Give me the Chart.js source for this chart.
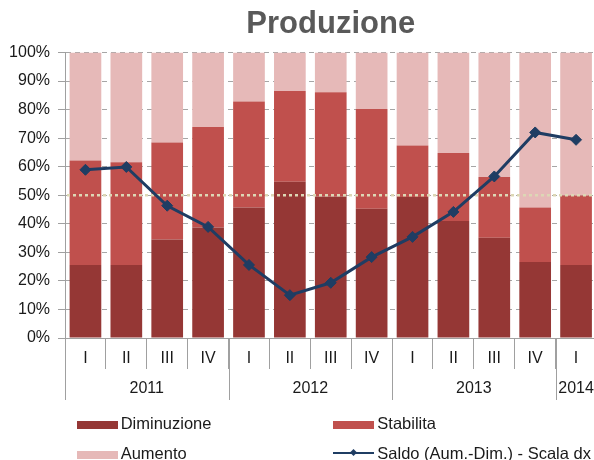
<!DOCTYPE html>
<html>
<head>
<meta charset="utf-8">
<script src="https://cdn.jsdelivr.net/npm/chart.js@4/dist/chart.umd.min.js"></script>
<style>
  html, body { margin: 0; padding: 0; background: #fff; overflow: hidden; width: 594px; height: 460px; }
  #wrap { position: relative; width: 594px; height: 460px; overflow: hidden; }
  #c { position: absolute; left: 0; top: 0; }
  .lg { position: absolute; height: 20px; font-family: 'Liberation Sans', Arial, sans-serif; font-size: 16.5px; line-height: 20px; color: #1a1a1a; white-space: nowrap; }
  .sw { position: absolute; left: 0; width: 41px; }
  .tx { position: absolute; left: 44px; top: 0; }
</style>
</head>
<body>
<div id="wrap">
  <canvas id="c" width="603" height="460"></canvas>
  <div id="legend"></div>
</div>
<script>
// ---- data ----
const quarters = ['I','II','III','IV','I','II','III','IV','I','II','III','IV','I'];
const years = ['2011','2012','2013','2014'];
const yearSpans = [4, 4, 4, 1];
const seriesNames = ['Diminuzione', 'Stabilita', 'Aumento', 'Saldo (Aum.-Dim.) - Scala dx'];
const diminuzione = [25.6, 25.6, 34.5, 38.7, 45.7, 54.7, 49.6, 45.3, 49.4, 41.0, 35.1, 26.6, 25.6];
const stabilita   = [36.6, 36.0, 34.0, 35.2, 37.1, 31.8, 36.5, 34.9, 18.0, 23.8, 21.3, 19.1, 24.3];
const aumento     = [37.8, 38.4, 31.5, 26.1, 17.2, 13.5, 13.9, 19.8, 32.6, 35.2, 43.6, 54.3, 50.1];
const saldo       = [10.7, 11.9, -4.4, -13.3, -29.3, -42.0, -36.8, -26.0, -17.5, -7.0, 7.9, 26.4, 23.3];

// ---- styles ----
const FONT = "'Liberation Sans', Arial, sans-serif";
const colors = ['#953735', '#C0504D', '#E6B9B8', '#1F3D63'];
const axisColor = '#a0a0a0';
const textColor = '#1a1a1a';

const yearPlugin = {
  id: 'yearRow',
  afterDraw(chart) {
    const xs = chart.scales.x;
    const ctx = chart.ctx;
    const half = (xs.getPixelForValue(1) - xs.getPixelForValue(0)) / 2;
    const top = chart.chartArea.bottom;
    const bottom = top + 62;
    ctx.save();
    ctx.font = '16px ' + FONT;
    ctx.fillStyle = textColor;
    ctx.textAlign = 'center';
    ctx.textBaseline = 'middle';
    const bounds = [xs.getPixelForValue(0) - half];
    let idx = 0;
    years.forEach((yr, k) => {
      const first = idx, last = idx + yearSpans[k] - 1;
      const cx = (xs.getPixelForValue(first) + xs.getPixelForValue(last)) / 2;
      ctx.fillText(yr, cx, top + 50.3);
      bounds.push(xs.getPixelForValue(last) + half);
      idx += yearSpans[k];
    });
    ctx.strokeStyle = axisColor;
    ctx.lineWidth = 1;
    bounds.forEach(b => {
      const x = Math.round(b) + 0.5;
      ctx.beginPath();
      ctx.moveTo(x, top);
      ctx.lineTo(x, bottom);
      ctx.stroke();
    });
    ctx.restore();
  }
};

const zeroLinePlugin = {
  id: 'zeroLine',
  beforeDatasetDraw(chart, args) {
    if (args.meta.type !== 'line') return;
    const ctx = chart.ctx;
    const y = chart.scales.y1.getPixelForValue(0);
    const a = chart.chartArea;
    ctx.save();
    ctx.setLineDash([3, 3]);
    ctx.lineWidth = 2.5;
    ctx.strokeStyle = '#ddd7b5';
    ctx.beginPath();
    ctx.moveTo(a.left + 2, y);
    ctx.lineTo(a.right, y);
    ctx.stroke();
    ctx.restore();
  }
};

const barCommon = { stack: 's', order: 1, barPercentage: 0.775, categoryPercentage: 1, borderWidth: 0, yAxisID: 'y' };

new Chart(document.getElementById('c'), {
  type: 'bar',
  data: {
    labels: quarters,
    datasets: [
      Object.assign({ label: seriesNames[0], data: diminuzione, backgroundColor: colors[0] }, barCommon),
      Object.assign({ label: seriesNames[1], data: stabilita, backgroundColor: colors[1] }, barCommon),
      Object.assign({ label: seriesNames[2], data: aumento, backgroundColor: colors[2] }, barCommon),
      {
        type: 'line', label: seriesNames[3], data: saldo, yAxisID: 'y1', order: 0,
        borderColor: colors[3], borderWidth: 3, tension: 0,
        pointStyle: 'rectRot', pointRadius: 5.5, pointBackgroundColor: colors[3],
        pointBorderColor: colors[3], pointBorderWidth: 1
      }
    ]
  },
  options: {
    responsive: false,
    animation: false,
    devicePixelRatio: 1,
    layout: { padding: { left: 0, right: 0.5, top: 0, bottom: 60 } },
    plugins: {
      legend: { display: false },
      tooltip: { enabled: false },
      title: {
        display: true, text: 'Produzione', fullSize: false,
        color: '#595959', font: { family: FONT, size: 31, weight: 'bold' },
        padding: { top: 6, bottom: 9.3 }
      }
    },
    scales: {
      x: {
        stacked: true,
        offset: true,
        afterFit(s) { s.height = 62; },
        grid: { offset: true, drawOnChartArea: false, drawTicks: true, tickLength: 31, color: axisColor, lineWidth: 1 },
        border: { display: true, color: axisColor, width: 1 },
        ticks: { padding: -20.3, autoSkip: false, maxRotation: 0, color: textColor, font: { family: FONT, size: 16 } }
      },
      y: {
        stacked: true,
        position: 'left',
        min: 0, max: 100,
        afterFit(s) { s.width = 65; },
        grid: { color: '#a6a6a6', lineWidth: 1, drawTicks: true, tickLength: 7, tickBorderDash: [], tickColor: axisColor },
        border: { display: true, color: axisColor, width: 1, dash: [5, 4] },
        ticks: { stepSize: 10, padding: 8, color: textColor, font: { family: FONT, size: 16 }, callback: v => v + '%' }
      },
      y1: {
        display: false,
        stacked: false,
        min: -60, max: 60
      }
    }
  },
  plugins: [zeroLinePlugin, yearPlugin]
});

// ---- legend (HTML) ----
const legendPos = [[76.7, 413], [333.3, 413], [76.7, 443], [333.3, 443]];
const lg = document.getElementById('legend');
seriesNames.forEach((name, i) => {
  const item = document.createElement('div');
  item.className = 'lg';
  item.style.left = legendPos[i][0] + 'px';
  item.style.top = legendPos[i][1] + 'px';
  const sw = document.createElement('span');
  sw.className = 'sw';
  if (i < 3) {
    sw.style.top = '7.5px';
    sw.style.height = '8.5px';
    sw.style.background = colors[i];
  } else {
    sw.style.top = '8.6px';
    sw.style.height = '2.5px';
    sw.style.background = colors[i];
    const dot = document.createElement('span');
    dot.style.cssText = 'position:absolute;left:18px;top:-1.5px;width:5px;height:5px;transform:rotate(45deg);background:' + colors[i] + ';';
    sw.appendChild(dot);
  }
  const tx = document.createElement('span');
  tx.className = 'tx';
  tx.textContent = name;
  item.appendChild(sw);
  item.appendChild(tx);
  lg.appendChild(item);
});
</script>
</body>
</html>
